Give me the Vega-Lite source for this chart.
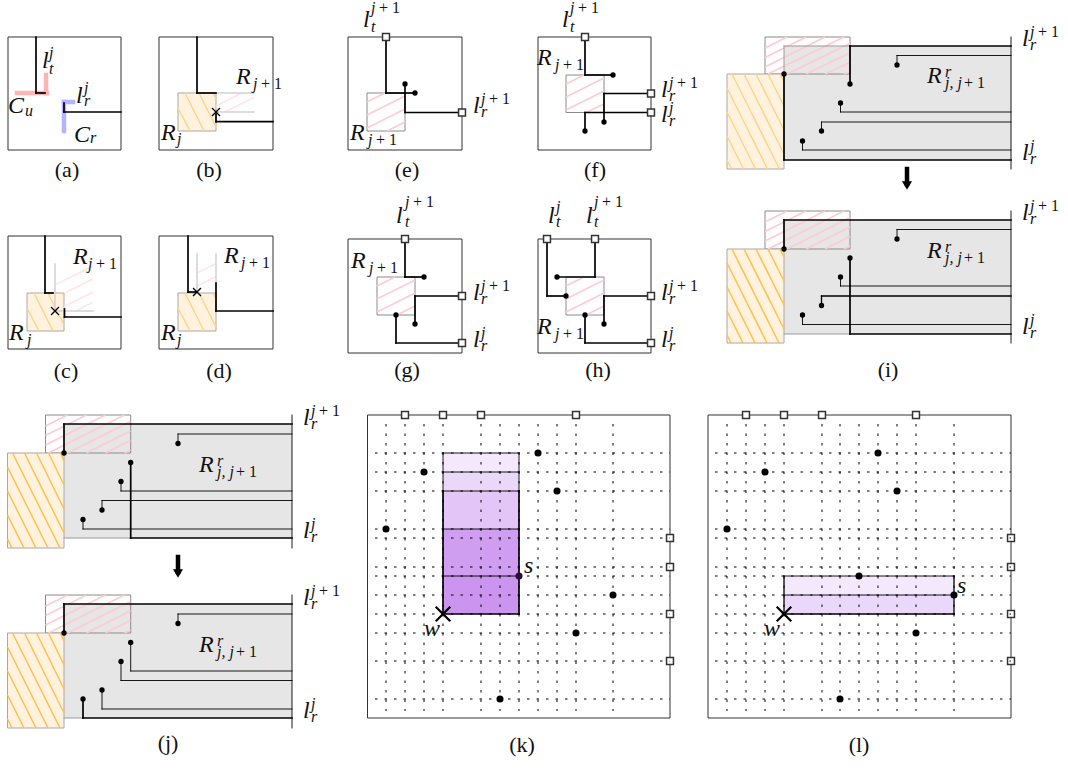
{"$schema":"https://vega.github.io/schema/vega-lite/v6.json","width":1068,"height":769,"padding":0,"autosize":{"type":"fit","contains":"padding"},"background":"white","config":{"view":{"stroke":null}},
"datasets":{
"rects":[
{"k":"box","x":8,"y":37,"x2":121,"y2":150},{"k":"box","x":159,"y":37,"x2":273,"y2":150},{"k":"box","x":8,"y":236,"x2":121,"y2":349},{"k":"box","x":159,"y":236,"x2":273,"y2":349},{"k":"box","x":348,"y":37,"x2":462,"y2":150},{"k":"box","x":538,"y":37,"x2":651,"y2":150},{"k":"box","x":348,"y":239,"x2":462,"y2":353},{"k":"box","x":538,"y":239,"x2":651,"y2":353},{"k":"box","x":367.5,"y":415,"x2":670,"y2":718},{"k":"box","x":708,"y":415,"x2":1011,"y2":718},
{"k":"grey","x":784,"y":46,"x2":1011,"y2":160},{"k":"grey","x":784,"y":220,"x2":1011,"y2":334},{"k":"grey","x":64,"y":424,"x2":292,"y2":538},{"k":"grey","x":64,"y":604,"x2":292,"y2":718},
{"k":"pink","x":367,"y":93,"x2":405,"y2":131},{"k":"pink","x":566,"y":75,"x2":604,"y2":112.5},{"k":"pink","x":377,"y":277,"x2":415,"y2":315},{"k":"pink","x":566,"y":277,"x2":604,"y2":315},{"k":"pink","x":765,"y":37,"x2":850,"y2":74},{"k":"pink","x":765,"y":211,"x2":850,"y2":249},{"k":"pink","x":45.5,"y":415,"x2":130.7,"y2":453},{"k":"pink","x":45.5,"y":595,"x2":130.7,"y2":633},
{"k":"orange","x":178,"y":93,"x2":216,"y2":131},{"k":"orange","x":27,"y":293,"x2":64,"y2":331},{"k":"orange","x":178,"y":293,"x2":216,"y2":331},{"k":"orange","x":727,"y":74,"x2":784,"y2":169},{"k":"orange","x":727,"y":249,"x2":784,"y2":343},{"k":"orange","x":7.5,"y":453,"x2":64,"y2":548},{"k":"orange","x":7.5,"y":633,"x2":64,"y2":728},
{"k":"p1","x":443,"y":453,"x2":519,"y2":472},{"k":"p2","x":443,"y":472,"x2":519,"y2":491},{"k":"p3","x":443,"y":491,"x2":519,"y2":529},{"k":"p4","x":443,"y":529,"x2":519,"y2":576},{"k":"p5","x":443,"y":576,"x2":519,"y2":614},
{"k":"p1","x":784,"y":576,"x2":954,"y2":595},{"k":"p2","x":784,"y":595,"x2":954,"y2":614}
],
"hatch":[
{"k":"o","x":178,"y":108,"x2":190,"y2":131},{"k":"o","x":185,"y":93,"x2":204,"y2":131},{"k":"o","x":199,"y":93,"x2":216,"y2":127},{"k":"o","x":213,"y":93,"x2":216,"y2":99},
{"k":"o","x":27,"y":308,"x2":39,"y2":331},{"k":"o","x":34,"y":293,"x2":53,"y2":331},{"k":"o","x":48,"y":293,"x2":64,"y2":325},{"k":"o","x":62,"y":293,"x2":64,"y2":297},
{"k":"o","x":178,"y":308,"x2":190,"y2":331},{"k":"o","x":185,"y":293,"x2":204,"y2":331},{"k":"o","x":199,"y":293,"x2":216,"y2":327},{"k":"o","x":213,"y":293,"x2":216,"y2":299},
{"k":"o","x":780,"y":74,"x2":784,"y2":82},{"k":"o","x":768,"y":74,"x2":784,"y2":106},{"k":"o","x":756,"y":74,"x2":784,"y2":130},{"k":"o","x":744,"y":74,"x2":784,"y2":154},{"k":"o","x":732,"y":74,"x2":779.5,"y2":169},{"k":"o","x":727,"y":88,"x2":767.5,"y2":169},{"k":"o","x":727,"y":112,"x2":755.5,"y2":169},{"k":"o","x":727,"y":136,"x2":743.5,"y2":169},{"k":"o","x":727,"y":160,"x2":731.5,"y2":169},
{"k":"s","x":780,"y":249,"x2":784,"y2":257},{"k":"s","x":768,"y":249,"x2":784,"y2":281},{"k":"s","x":756,"y":249,"x2":784,"y2":305},{"k":"s","x":744,"y":249,"x2":784,"y2":329},{"k":"s","x":732,"y":249,"x2":779,"y2":343},{"k":"s","x":727,"y":263,"x2":767,"y2":343},{"k":"s","x":727,"y":287,"x2":755,"y2":343},{"k":"s","x":727,"y":311,"x2":743,"y2":343},{"k":"s","x":727,"y":335,"x2":731,"y2":343},
{"k":"s","x":60.5,"y":453,"x2":64,"y2":461},{"k":"s","x":48.5,"y":453,"x2":64,"y2":485},{"k":"s","x":36.5,"y":453,"x2":64,"y2":509},{"k":"s","x":24.5,"y":453,"x2":64,"y2":533},{"k":"s","x":12.5,"y":453,"x2":60,"y2":548},{"k":"s","x":7.5,"y":467,"x2":48,"y2":548},{"k":"s","x":7.5,"y":491,"x2":36,"y2":548},{"k":"s","x":7.5,"y":515,"x2":24,"y2":548},{"k":"s","x":7.5,"y":539,"x2":12,"y2":548},
{"k":"s","x":60.5,"y":633,"x2":64,"y2":641},{"k":"s","x":48.5,"y":633,"x2":64,"y2":665},{"k":"s","x":36.5,"y":633,"x2":64,"y2":689},{"k":"s","x":24.5,"y":633,"x2":64,"y2":713},{"k":"s","x":12.5,"y":633,"x2":60,"y2":728},{"k":"s","x":7.5,"y":647,"x2":48,"y2":728},{"k":"s","x":7.5,"y":671,"x2":36,"y2":728},{"k":"s","x":7.5,"y":695,"x2":24,"y2":728},{"k":"s","x":7.5,"y":719,"x2":12,"y2":728},
{"k":"p","x":367,"y":102,"x2":385,"y2":93},{"k":"p","x":367,"y":115,"x2":405,"y2":96},{"k":"p","x":367,"y":128,"x2":405,"y2":109},{"k":"p","x":387,"y":131,"x2":405,"y2":122},
{"k":"p","x":566,"y":84,"x2":584,"y2":75},{"k":"p","x":566,"y":97,"x2":604,"y2":78},{"k":"p","x":566,"y":110,"x2":604,"y2":91},{"k":"p","x":586,"y":112.5,"x2":604,"y2":104},
{"k":"p","x":377,"y":286,"x2":395,"y2":277},{"k":"p","x":377,"y":299,"x2":415,"y2":280},{"k":"p","x":377,"y":312,"x2":415,"y2":293},{"k":"p","x":397,"y":315,"x2":415,"y2":306},
{"k":"p","x":566,"y":286,"x2":584,"y2":277},{"k":"p","x":566,"y":299,"x2":604,"y2":280},{"k":"p","x":566,"y":312,"x2":604,"y2":293},{"k":"p","x":586,"y":315,"x2":604,"y2":306},
{"k":"p","x":765,"y":48,"x2":787,"y2":37},{"k":"p","x":765,"y":57.5,"x2":806,"y2":37},{"k":"p","x":765,"y":67,"x2":825,"y2":37},{"k":"p","x":768,"y":74,"x2":844,"y2":37},{"k":"p","x":787,"y":74,"x2":850,"y2":43.5},{"k":"p","x":806,"y":74,"x2":850,"y2":53},{"k":"p","x":825,"y":74,"x2":850,"y2":62.5},{"k":"p","x":844,"y":74,"x2":850,"y2":72},
{"k":"p","x":765,"y":222,"x2":787,"y2":211},{"k":"p","x":765,"y":231.5,"x2":806,"y2":211},{"k":"p","x":765,"y":241,"x2":825,"y2":211},{"k":"p","x":768,"y":249,"x2":844,"y2":211},{"k":"p","x":787,"y":249,"x2":850,"y2":217.5},{"k":"p","x":806,"y":249,"x2":850,"y2":227},{"k":"p","x":825,"y":249,"x2":850,"y2":236.5},{"k":"p","x":844,"y":249,"x2":850,"y2":246},
{"k":"p","x":45.5,"y":426,"x2":67.5,"y2":415},{"k":"p","x":45.5,"y":435.5,"x2":86.5,"y2":415},{"k":"p","x":45.5,"y":445,"x2":105.5,"y2":415},{"k":"p","x":48.5,"y":453,"x2":124.5,"y2":415},{"k":"p","x":67.5,"y":453,"x2":130.5,"y2":421.5},{"k":"p","x":86.5,"y":453,"x2":130.5,"y2":431},{"k":"p","x":105.5,"y":453,"x2":130.5,"y2":440.5},{"k":"p","x":124.5,"y":453,"x2":130.5,"y2":450},
{"k":"p","x":45.5,"y":606,"x2":67.5,"y2":595},{"k":"p","x":45.5,"y":615.5,"x2":86.5,"y2":595},{"k":"p","x":45.5,"y":625,"x2":105.5,"y2":595},{"k":"p","x":48.5,"y":633,"x2":124.5,"y2":595},{"k":"p","x":67.5,"y":633,"x2":130.5,"y2":601.5},{"k":"p","x":86.5,"y":633,"x2":130.5,"y2":611},{"k":"p","x":105.5,"y":633,"x2":130.5,"y2":620.5},{"k":"p","x":124.5,"y":633,"x2":130.5,"y2":630},
{"k":"f","x":216,"y":106,"x2":242,"y2":93},{"k":"f","x":225,"y":112,"x2":254,"y2":97.5},
{"k":"f","x":55,"y":285,"x2":93,"y2":266},{"k":"f","x":65,"y":293,"x2":93,"y2":279},{"k":"f","x":64,"y":306.5,"x2":93,"y2":292},{"k":"f","x":76,"y":311,"x2":93,"y2":302},
{"k":"f","x":197,"y":273,"x2":216,"y2":263.5},{"k":"f","x":197,"y":286,"x2":216,"y2":276.5}
],
"segs":[
{"k":"pc","x":17,"y":93,"x2":47,"y2":93},{"k":"pc","x":46,"y":75,"x2":46,"y2":93},{"k":"bc","x":64,"y":102,"x2":73,"y2":102},{"k":"bc","x":64,"y":102,"x2":64,"y2":131},
{"k":"lg","x":216,"y":93,"x2":254,"y2":93},{"k":"lg","x":216,"y":112,"x2":254,"y2":112},{"k":"lg","x":55,"y":264,"x2":55,"y2":311},{"k":"lg","x":55,"y":311,"x2":93,"y2":311},{"k":"lg","x":197,"y":254,"x2":197,"y2":293},{"k":"lg","x":216,"y":254,"x2":216,"y2":283},
{"k":"gl","x":784,"y":46,"x2":850,"y2":46},{"k":"gl","x":784,"y":46,"x2":784,"y2":74},{"k":"gl","x":784,"y":334,"x2":850,"y2":334},{"k":"gl","x":64,"y":538,"x2":130.7,"y2":538},{"k":"gl","x":64,"y":718,"x2":83,"y2":718},
{"k":"th","x":36,"y":37,"x2":36,"y2":93},{"k":"th","x":36,"y":93,"x2":45,"y2":93},{"k":"th","x":121,"y":112,"x2":64,"y2":112},{"k":"th","x":64,"y":112,"x2":64,"y2":103},
{"k":"th","x":197,"y":37,"x2":197,"y2":93},{"k":"th","x":197,"y":93,"x2":216,"y2":93},{"k":"th","x":273,"y":121.7,"x2":216,"y2":121.7},{"k":"th","x":216,"y":121.7,"x2":216,"y2":114},
{"k":"md","x":212.5,"y":108.5,"x2":219.5,"y2":115.5},{"k":"md","x":212.5,"y":115.5,"x2":219.5,"y2":108.5},
{"k":"th","x":45,"y":236,"x2":45,"y2":293},{"k":"th","x":45,"y":293,"x2":53,"y2":293},{"k":"th","x":121,"y":317,"x2":64.5,"y2":317},{"k":"th","x":64.5,"y":317,"x2":64.5,"y2":309},
{"k":"md","x":51.5,"y":307.5,"x2":58.5,"y2":314.5},{"k":"md","x":51.5,"y":314.5,"x2":58.5,"y2":307.5},
{"k":"th","x":188,"y":236,"x2":188,"y2":292},{"k":"th","x":188,"y":292,"x2":197,"y2":292},{"k":"th","x":273,"y":311,"x2":216,"y2":311},{"k":"th","x":216,"y":311,"x2":216,"y2":283},
{"k":"md","x":193.5,"y":288.5,"x2":200.5,"y2":295.5},{"k":"md","x":193.5,"y":295.5,"x2":200.5,"y2":288.5},
{"k":"th","x":386,"y":37,"x2":386,"y2":93},{"k":"th","x":386,"y":93,"x2":415,"y2":93},{"k":"th","x":462,"y":112.5,"x2":405,"y2":112.5},{"k":"th","x":405,"y":112.5,"x2":405,"y2":84},
{"k":"th","x":585,"y":37,"x2":585,"y2":75},{"k":"th","x":585,"y":75,"x2":613,"y2":75},{"k":"th","x":651,"y":93.5,"x2":604,"y2":93.5},{"k":"th","x":604,"y":93.5,"x2":604,"y2":122},{"k":"th","x":651,"y":112.5,"x2":585,"y2":112.5},{"k":"th","x":585,"y":112.5,"x2":585,"y2":131},
{"k":"th","x":405,"y":239,"x2":405,"y2":277},{"k":"th","x":405,"y":277,"x2":424,"y2":277},{"k":"th","x":462,"y":296,"x2":415,"y2":296},{"k":"th","x":415,"y":296,"x2":415,"y2":324},{"k":"th","x":462,"y":343,"x2":396,"y2":343},{"k":"th","x":396,"y":343,"x2":396,"y2":315},
{"k":"th","x":547,"y":239,"x2":547,"y2":296},{"k":"th","x":547,"y":296,"x2":566,"y2":296},{"k":"th","x":595,"y":239,"x2":595,"y2":277},{"k":"th","x":595,"y":277,"x2":557,"y2":277},{"k":"th","x":651,"y":296,"x2":604,"y2":296},{"k":"th","x":604,"y":296,"x2":604,"y2":324},{"k":"th","x":651,"y":343,"x2":585,"y2":343},{"k":"th","x":585,"y":343,"x2":585,"y2":315},
{"k":"tn","x":1011,"y":37,"x2":1011,"y2":169},{"k":"th","x":850,"y":46,"x2":1011,"y2":46},{"k":"th","x":850,"y":46,"x2":850,"y2":84},{"k":"th","x":784,"y":74,"x2":784,"y2":160},{"k":"th","x":784,"y":160,"x2":1011,"y2":160},
{"k":"tn","x":1011,"y":55.5,"x2":897,"y2":55.5},{"k":"tn","x":897,"y":55.5,"x2":897,"y2":65},{"k":"tn","x":1011,"y":112,"x2":840.5,"y2":112},{"k":"tn","x":840.5,"y":112,"x2":840.5,"y2":103},{"k":"tn","x":1011,"y":122,"x2":821.5,"y2":122},{"k":"tn","x":821.5,"y":122,"x2":821.5,"y2":131},{"k":"tn","x":1011,"y":150,"x2":802.5,"y2":150},{"k":"tn","x":802.5,"y":150,"x2":802.5,"y2":141},
{"k":"ar","x":907,"y":169,"x2":907,"y2":184},
{"k":"tn","x":1011,"y":211,"x2":1011,"y2":343},{"k":"th","x":1011,"y":220,"x2":784,"y2":220},{"k":"th","x":784,"y":220,"x2":784,"y2":249},{"k":"th","x":850,"y":258,"x2":850,"y2":334},{"k":"th","x":850,"y":334,"x2":1011,"y2":334},
{"k":"tn","x":1011,"y":229.5,"x2":897,"y2":229.5},{"k":"tn","x":897,"y":229.5,"x2":897,"y2":239},{"k":"tn","x":1011,"y":286,"x2":840.5,"y2":286},{"k":"tn","x":840.5,"y":286,"x2":840.5,"y2":277},{"k":"md","x":1011,"y":296,"x2":821.5,"y2":296},{"k":"md","x":821.5,"y":296,"x2":821.5,"y2":305.5},{"k":"tn","x":1011,"y":324.5,"x2":802.5,"y2":324.5},{"k":"tn","x":802.5,"y":324.5,"x2":802.5,"y2":315},
{"k":"tn","x":292,"y":415,"x2":292,"y2":548},{"k":"th","x":292,"y":424,"x2":64,"y2":424},{"k":"th","x":64,"y":424,"x2":64,"y2":453},{"k":"th","x":130.7,"y":462.5,"x2":130.7,"y2":538},{"k":"th","x":130.7,"y":538,"x2":292,"y2":538},
{"k":"tn","x":292,"y":434,"x2":178,"y2":434},{"k":"tn","x":178,"y":434,"x2":178,"y2":443.5},{"k":"tn","x":292,"y":491,"x2":121,"y2":491},{"k":"tn","x":121,"y":491,"x2":121,"y2":481.5},{"k":"tn","x":292,"y":500.5,"x2":102,"y2":500.5},{"k":"tn","x":102,"y":500.5,"x2":102,"y2":510},{"k":"tn","x":292,"y":529,"x2":83,"y2":529},{"k":"tn","x":83,"y":529,"x2":83,"y2":519.5},
{"k":"ar","x":178,"y":557,"x2":178,"y2":572},
{"k":"tn","x":292,"y":595,"x2":292,"y2":728},{"k":"th","x":292,"y":604,"x2":64,"y2":604},{"k":"th","x":64,"y":604,"x2":64,"y2":633},{"k":"tn","x":292,"y":614,"x2":178,"y2":614},{"k":"tn","x":178,"y":614,"x2":178,"y2":623.5},{"k":"tn","x":292,"y":671,"x2":130.7,"y2":671},{"k":"tn","x":130.7,"y":671,"x2":130.7,"y2":642.5},{"k":"tn","x":292,"y":680.5,"x2":121,"y2":680.5},{"k":"tn","x":121,"y":680.5,"x2":121,"y2":661.5},{"k":"tn","x":292,"y":709,"x2":102,"y2":709},{"k":"tn","x":102,"y":709,"x2":102,"y2":690},{"k":"th","x":292,"y":718,"x2":83,"y2":718},{"k":"th","x":83,"y":718,"x2":83,"y2":699},
{"k":"tn","x":443,"y":453,"x2":519,"y2":453},{"k":"tn","x":443,"y":472,"x2":519,"y2":472},{"k":"tn","x":443,"y":491,"x2":519,"y2":491},{"k":"tn","x":443,"y":529,"x2":519,"y2":529},{"k":"tn","x":443,"y":576,"x2":519,"y2":576},{"k":"tn","x":443,"y":453,"x2":443,"y2":491},{"k":"tn","x":519,"y":453,"x2":519,"y2":491},{"k":"th","x":443,"y":491,"x2":443,"y2":614},{"k":"th","x":519,"y":491,"x2":519,"y2":614},{"k":"th","x":443,"y":614,"x2":519,"y2":614},
{"k":"tn","x":784,"y":576,"x2":954,"y2":576},{"k":"tn","x":784,"y":595,"x2":954,"y2":595},{"k":"md","x":784,"y":614,"x2":954,"y2":614},{"k":"md","x":784,"y":576,"x2":784,"y2":614},{"k":"md","x":954,"y":576,"x2":954,"y2":614},
{"k":"cr","x":436.5,"y":607.5,"x2":449.5,"y2":620.5},{"k":"cr","x":436.5,"y":620.5,"x2":449.5,"y2":607.5},{"k":"cr","x":777.5,"y":607.5,"x2":790.5,"y2":620.5},{"k":"cr","x":777.5,"y":620.5,"x2":790.5,"y2":607.5}
],
"squares":[
{"x":386,"y":37},{"x":462,"y":112.5},{"x":585,"y":37},{"x":651,"y":93.5},{"x":651,"y":112.5},{"x":405,"y":239},{"x":462,"y":296},{"x":462,"y":343},{"x":547,"y":239},{"x":595,"y":239},{"x":651,"y":296},{"x":651,"y":343},
{"x":405,"y":415},{"x":443,"y":415},{"x":481,"y":415},{"x":576,"y":415},{"x":670,"y":538},{"x":670,"y":567},{"x":670,"y":614},{"x":670,"y":661},
{"x":746,"y":415},{"x":784,"y":415},{"x":822,"y":415},{"x":916,"y":415},{"x":1011,"y":538},{"x":1011,"y":567},{"x":1011,"y":614},{"x":1011,"y":661}
],
"dotted":[
{"x":386,"y":424,"x2":386,"y2":711},{"x":405,"y":424,"x2":405,"y2":711},{"x":424,"y":424,"x2":424,"y2":711},{"x":443,"y":424,"x2":443,"y2":711},{"x":481,"y":424,"x2":481,"y2":711},{"x":500,"y":424,"x2":500,"y2":711},{"x":519,"y":424,"x2":519,"y2":711},{"x":538,"y":424,"x2":538,"y2":711},{"x":557,"y":424,"x2":557,"y2":711},{"x":576,"y":424,"x2":576,"y2":711},{"x":613,"y":424,"x2":613,"y2":711},
{"x":727,"y":424,"x2":727,"y2":711},{"x":746,"y":424,"x2":746,"y2":711},{"x":765,"y":424,"x2":765,"y2":711},{"x":784,"y":424,"x2":784,"y2":711},{"x":822,"y":424,"x2":822,"y2":711},{"x":840,"y":424,"x2":840,"y2":711},{"x":859,"y":424,"x2":859,"y2":711},{"x":878,"y":424,"x2":878,"y2":711},{"x":897,"y":424,"x2":897,"y2":711},{"x":916,"y":424,"x2":916,"y2":711},{"x":954,"y":424,"x2":954,"y2":711},
{"x":375,"y":453,"x2":670,"y2":453},{"x":375,"y":472,"x2":670,"y2":472},{"x":375,"y":491,"x2":670,"y2":491},{"x":375,"y":529,"x2":670,"y2":529},{"x":375,"y":538,"x2":670,"y2":538},{"x":375,"y":567,"x2":670,"y2":567},{"x":375,"y":576,"x2":670,"y2":576},{"x":375,"y":595,"x2":670,"y2":595},{"x":375,"y":614,"x2":670,"y2":614},{"x":375,"y":633,"x2":670,"y2":633},{"x":375,"y":661,"x2":670,"y2":661},{"x":375,"y":699,"x2":670,"y2":699},
{"x":715,"y":453,"x2":1011,"y2":453},{"x":715,"y":472,"x2":1011,"y2":472},{"x":715,"y":491,"x2":1011,"y2":491},{"x":715,"y":529,"x2":1011,"y2":529},{"x":715,"y":538,"x2":1011,"y2":538},{"x":715,"y":567,"x2":1011,"y2":567},{"x":715,"y":576,"x2":1011,"y2":576},{"x":715,"y":595,"x2":1011,"y2":595},{"x":715,"y":614,"x2":1011,"y2":614},{"x":715,"y":633,"x2":1011,"y2":633},{"x":715,"y":661,"x2":1011,"y2":661},{"x":715,"y":699,"x2":1011,"y2":699}
],
"dots":[
{"k":"s","x":415,"y":93},{"k":"s","x":405,"y":84},{"k":"s","x":613,"y":75},{"k":"s","x":604,"y":122},{"k":"s","x":585,"y":131},{"k":"s","x":424,"y":277},{"k":"s","x":415,"y":324},{"k":"s","x":396,"y":315},{"k":"s","x":566,"y":296},{"k":"s","x":557,"y":277},{"k":"s","x":604,"y":324},{"k":"s","x":585,"y":315},
{"k":"s","x":784,"y":74},{"k":"s","x":850,"y":84},{"k":"s","x":897,"y":65},{"k":"s","x":840.5,"y":103},{"k":"s","x":821.5,"y":131},{"k":"s","x":802.5,"y":141},
{"k":"s","x":784,"y":249},{"k":"s","x":850,"y":258},{"k":"s","x":897,"y":239},{"k":"s","x":840.5,"y":277},{"k":"s","x":821.5,"y":305.5},{"k":"s","x":802.5,"y":315},
{"k":"s","x":64,"y":453},{"k":"s","x":130.7,"y":462.5},{"k":"s","x":178,"y":443.5},{"k":"s","x":121,"y":481.5},{"k":"s","x":102,"y":510},{"k":"s","x":83,"y":519.5},
{"k":"s","x":64,"y":633},{"k":"s","x":178,"y":623.5},{"k":"s","x":130.7,"y":642.5},{"k":"s","x":121,"y":661.5},{"k":"s","x":102,"y":690},{"k":"s","x":83,"y":699},
{"k":"l","x":538,"y":453},{"k":"l","x":424,"y":472},{"k":"l","x":557,"y":491},{"k":"l","x":386,"y":529},{"k":"t","x":519,"y":576},{"k":"l","x":613,"y":595},{"k":"l","x":576,"y":633},{"k":"l","x":500,"y":699},
{"k":"l","x":878,"y":453},{"k":"l","x":765,"y":472},{"k":"l","x":897,"y":491},{"k":"l","x":727,"y":529},{"k":"l","x":859,"y":576},{"k":"l","x":954,"y":595},{"k":"l","x":916,"y":633},{"k":"l","x":840,"y":699}
],
"heads":[{"x":907,"y":185.5},{"x":178,"y":573.5}],
"big":[
{"t":"l","x":42,"y":68},{"t":"C","x":8,"y":113},{"t":"l","x":76,"y":103},{"t":"C","x":74,"y":142},
{"t":"R","x":236,"y":84},{"t":"R","x":161,"y":140},{"t":"R","x":73,"y":264},{"t":"R","x":9,"y":340},{"t":"R","x":224,"y":263},{"t":"R","x":161,"y":340},
{"t":"l","x":363,"y":27},{"t":"l","x":473,"y":113},{"t":"R","x":350,"y":140},
{"t":"l","x":562,"y":27},{"t":"R","x":537,"y":65},{"t":"l","x":661,"y":97},{"t":"l","x":661,"y":122},
{"t":"l","x":396,"y":223},{"t":"R","x":351,"y":268},{"t":"l","x":473,"y":300},{"t":"l","x":473,"y":347},
{"t":"l","x":548,"y":223},{"t":"l","x":586,"y":223},{"t":"R","x":537,"y":334},{"t":"l","x":661,"y":300},{"t":"l","x":661,"y":347},
{"t":"R","x":927,"y":83},{"t":"l","x":1022,"y":46},{"t":"l","x":1022,"y":160},
{"t":"R","x":927,"y":258},{"t":"l","x":1022,"y":220},{"t":"l","x":1022,"y":334},
{"t":"R","x":199,"y":472},{"t":"l","x":303,"y":425},{"t":"l","x":303,"y":538},
{"t":"R","x":199,"y":652},{"t":"l","x":303,"y":605},{"t":"l","x":303,"y":718},
{"t":"s","x":524,"y":573},{"t":"w","x":424,"y":636},{"t":"s","x":957,"y":593},{"t":"w","x":764,"y":636}
],
"small":[
{"t":"j","x":49,"y":58},{"t":"t","x":49,"y":74},{"t":"u","x":25,"y":116},{"t":"j","x":84,"y":93},{"t":"r","x":84,"y":106},{"t":"r","x":90,"y":143},
{"t":"j","x":253,"y":89},{"t":"j","x":177,"y":144},{"t":"j","x":88,"y":269},{"t":"j","x":27,"y":345},{"t":"j","x":241,"y":268},{"t":"j","x":177,"y":345},
{"t":"j","x":371,"y":13},{"t":"t","x":371,"y":32},{"t":"j","x":481,"y":104},{"t":"r","x":481,"y":117},{"t":"j","x":368,"y":145},
{"t":"j","x":570,"y":13},{"t":"t","x":570,"y":32},{"t":"j","x":555,"y":70},{"t":"j","x":669,"y":88},{"t":"r","x":669,"y":101},{"t":"j","x":669,"y":113},{"t":"r","x":669,"y":126},
{"t":"j","x":405,"y":207},{"t":"t","x":405,"y":227},{"t":"j","x":369,"y":273},{"t":"j","x":481,"y":291},{"t":"r","x":481,"y":304},{"t":"j","x":481,"y":338},{"t":"r","x":481,"y":351},
{"t":"j","x":556,"y":212},{"t":"t","x":556,"y":227},{"t":"j","x":594,"y":207},{"t":"t","x":594,"y":227},{"t":"j","x":555,"y":339},{"t":"j","x":669,"y":291},{"t":"r","x":669,"y":304},{"t":"j","x":669,"y":338},{"t":"r","x":669,"y":351},
{"t":"r","x":945,"y":77},{"t":"j, j","x":945,"y":88},{"t":"j","x":1030,"y":37},{"t":"r","x":1030,"y":50},{"t":"j","x":1030,"y":151},{"t":"r","x":1030,"y":164},
{"t":"r","x":945,"y":252},{"t":"j, j","x":945,"y":263},{"t":"j","x":1030,"y":211},{"t":"r","x":1030,"y":224},{"t":"j","x":1030,"y":325},{"t":"r","x":1030,"y":338},
{"t":"r","x":217,"y":466},{"t":"j, j","x":217,"y":477},{"t":"j","x":311,"y":416},{"t":"r","x":311,"y":429},{"t":"j","x":311,"y":529},{"t":"r","x":311,"y":542},
{"t":"r","x":217,"y":646},{"t":"j, j","x":217,"y":657},{"t":"j","x":311,"y":596},{"t":"r","x":311,"y":609},{"t":"j","x":311,"y":709},{"t":"r","x":311,"y":722}
],
"plus":[
{"x":261,"y":89},{"x":96,"y":269},{"x":249,"y":268},{"x":379,"y":13},{"x":489,"y":104},{"x":376,"y":145},{"x":578,"y":13},{"x":563,"y":70},{"x":677,"y":88},{"x":413,"y":207},{"x":377,"y":273},{"x":489,"y":291},{"x":602,"y":207},{"x":563,"y":339},{"x":677,"y":291},
{"x":964,"y":88},{"x":1038,"y":37},{"x":964,"y":263},{"x":1038,"y":211},{"x":236,"y":477},{"x":319,"y":416},{"x":236,"y":657},{"x":319,"y":596}
],
"caps":[
{"t":"(a)","x":67,"y":177},{"t":"(b)","x":209,"y":177},{"t":"(c)","x":66,"y":378},{"t":"(d)","x":219,"y":378},{"t":"(e)","x":407,"y":177},{"t":"(f)","x":595,"y":177},{"t":"(g)","x":407,"y":377},{"t":"(h)","x":598,"y":377},{"t":"(i)","x":888,"y":377},{"t":"(j)","x":168,"y":750},{"t":"(k)","x":522,"y":752},{"t":"(l)","x":859,"y":752}
]
},
"encoding":{"x":{"field":"x","type":"quantitative","axis":null,"scale":{"domain":[0,1068],"nice":false,"zero":false}},"y":{"field":"y","type":"quantitative","axis":null,"scale":{"domain":[769,0],"nice":false,"zero":false}}},
"layer":[
{"data":{"name":"rects"},"mark":{"type":"rect","strokeWidth":1},"encoding":{"x2":{"field":"x2"},"y2":{"field":"y2"},
"fill":{"field":"k","type":"nominal","legend":null,"scale":{"domain":["box","grey","pink","orange","p1","p2","p3","p4","p5"],"range":["transparent","#e6e6e6","transparent","#fff3e0","#f4e8fc","#ead8fa","#e3c5f7","#d09ef0","#cb94ee"]}},
"stroke":{"field":"k","type":"nominal","legend":null,"scale":{"domain":["box","grey","pink","orange","p1","p2","p3","p4","p5"],"range":["#333333","transparent","#8a8a8a","#a8a8a8","transparent","transparent","transparent","transparent","transparent"]}}}},
{"data":{"name":"hatch"},"mark":{"type":"rule","strokeWidth":1.5},"encoding":{"x2":{"field":"x2"},"y2":{"field":"y2"},
"stroke":{"field":"k","type":"nominal","legend":null,"scale":{"domain":["o","s","p","f"],"range":["#fdd48a","#ffc04d","#ffc9d6","#fde6ec"]}}}},
{"data":{"name":"segs"},"mark":{"type":"rule","strokeCap":"square"},"encoding":{"x2":{"field":"x2"},"y2":{"field":"y2"},
"stroke":{"field":"k","type":"nominal","legend":null,"scale":{"domain":["pc","bc","lg","gl","th","md","tn","ar","cr"],"range":["#ffb3b3","#b3b3ff","#d2d2d2","#9a9a9a","#000000","#000000","#000000","#000000","#000000"]}},
"strokeWidth":{"field":"k","type":"ordinal","legend":null,"scale":{"type":"ordinal","domain":["pc","bc","lg","gl","th","md","tn","ar","cr"],"range":[4.5,4.5,1.5,1,1.7,1.3,0.9,4.5,2.2]}}}},
{"data":{"name":"heads"},"mark":{"type":"point","shape":"triangle-down","filled":true,"color":"black","size":100,"opacity":1}},
{"data":{"name":"squares"},"mark":{"type":"point","shape":"square","filled":true,"fill":"white","stroke":"#333333","strokeWidth":1.5,"size":48,"opacity":1}},
{"data":{"name":"dotted"},"mark":{"type":"rule","stroke":"#000000","strokeWidth":1,"strokeDash":[2.5,7]},"encoding":{"x2":{"field":"x2"},"y2":{"field":"y2"}}},
{"data":{"name":"dots"},"mark":{"type":"point","shape":"circle","filled":true,"opacity":1},"encoding":{
"fill":{"field":"k","type":"nominal","legend":null,"scale":{"domain":["s","l","t"],"range":["#000000","#000000","#2a0a40"]}},
"size":{"field":"k","type":"ordinal","legend":null,"scale":{"type":"ordinal","domain":["s","l","t"],"range":[28,50,50]}}}},
{"data":{"name":"big"},"mark":{"type":"text","font":"Liberation Serif","fontStyle":"italic","fontSize":24,"align":"left","baseline":"alphabetic","color":"#111111"},"encoding":{"text":{"field":"t"}}},
{"data":{"name":"small"},"mark":{"type":"text","font":"Liberation Serif","fontStyle":"italic","fontSize":16,"align":"left","baseline":"alphabetic","color":"#111111"},"encoding":{"text":{"field":"t"}}},
{"data":{"name":"plus"},"mark":{"type":"text","font":"Liberation Serif","fontSize":16,"align":"left","baseline":"alphabetic","color":"#111111","text":"+ 1"}},
{"data":{"name":"caps"},"mark":{"type":"text","font":"Liberation Serif","fontSize":22,"align":"center","baseline":"alphabetic","color":"#111111"},"encoding":{"text":{"field":"t"}}}
],
"resolve":{"scale":{"fill":"independent","stroke":"independent","strokeWidth":"independent","size":"independent"}}
}
